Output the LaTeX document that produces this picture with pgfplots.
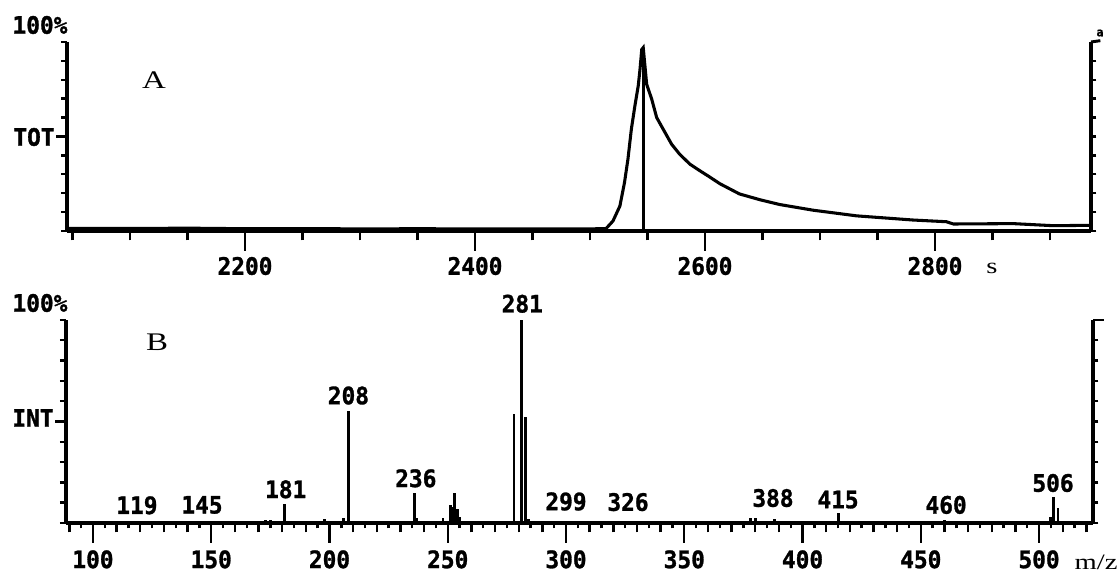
\documentclass[border=0pt]{standalone}
\usepackage{fontspec}
\setmainfont{Liberation Serif}
\newfontfamily\dotfont[FakeStretch=0.95, BoldFeatures={FakeBold=1.2}]{DejaVu Sans Mono}
\newfontfamily\widefont[FakeStretch=1.3]{Liberation Serif}
\usepackage{pgfplots}
\usepackage{pgfplotstable}
\pgfplotsset{compat=1.18}
\newcommand\tk{\dotfont\bfseries\fontsize{18}{18}\selectfont}
\newcommand\pl{\widefont\fontsize{19}{19}\selectfont}
\newcommand\ul{\widefont\fontsize{16.5}{16.5}\selectfont}

\pgfplotstableread{
s pct
2046 1.4
2100 1.3
2150 1.5
2200 1.2
2250 1.3
2300 1.1
2350 1.2
2400 1.1
2450 1.1
2500 1.1
2514 1.3
2520 5.3
2526 13.2
2530 25.6
2533 38
2536 54
2539 66
2542 77
2543.5 85.6
2545 96
2546.3 97
2549.3 77.6
2553.7 69.7
2558 60
2563.7 53.8
2571 45.9
2578 40.6
2587 35.3
2596 31.7
2603 29
2613 25
2630 19.6
2648 16.5
2665 14
2694 11
2732 8
2781 5.8
2810 4.9
2816 3.7
2868 3.9
2903 2.8
2935 3.0
}\tracedata

\pgfplotstableread{
mz int
119 1.0
145 0.8
173 1.5
175 1.5
181 9.5
198 2.0
206 2.5
208 55.4
236 15.0
237 2.5
248 2.5
251 9.0
252 8.0
253 15.0
254 7.0
255 3.0
278 53.5
281 100
283 52.0
284 2.0
299 1.0
326 1.0
378 2.5
380 2.5
388 2.0
415 5.0
460 1.5
487 1.0
505 3.0
506 12.7
508 7.4
}\specdata

\begin{document}
\begin{tikzpicture}
\path[use as bounding box] (0,0) rectangle (837.75pt,429.75pt);

% ---------------- Panel A ----------------
\begin{axis}[
  at={(50.25pt,256.5pt)}, anchor=south west,
  scale only axis, width=768pt, height=141.75pt,
  xmin=2045.2, xmax=2935.7, ymin=0, ymax=100,
  axis x line=bottom, axis y line=left,
  axis line style={line width=2.6pt,-,black},
  clip=false, tick align=outside,
  xtick={2200,2400,2600,2800}, xticklabels={2200,2400,2600,2800},
  minor xtick={2050,2100,2150,2250,2300,2350,2450,2500,2550,2650,2700,2750,2850,2900},
  xtick style={line width=1.8pt, black, /pgfplots/major tick length=15pt, /pgfplots/minor tick length=7pt},
  ytick={0,10,...,100}, yticklabels={},
  ytick style={line width=1.8pt, black, /pgfplots/major tick length=4.5pt},
  xticklabel style={font=\tk, inner sep=0pt, yshift=-15pt},
]
\addplot[line width=2.3pt, black] table[x=s,y=pct]{\tracedata};
\addplot[line width=2.2pt, black] coordinates {(2546.3,0) (2546.3,97)};
\draw[line width=1.8pt] (rel axis cs:0,0.5) -- ++(-8pt,0pt);
\end{axis}
\begin{axis}[
  at={(50.25pt,256.5pt)}, anchor=south west,
  scale only axis, width=768pt, height=141.75pt,
  xmin=2045.2, xmax=2935.7, ymin=0, ymax=100,
  axis x line=none, axis y line=right,
  axis line style={line width=2.6pt,-,black},
  clip=false, tick align=outside,
  ytick={0,10,...,100}, yticklabels={},
  ytick style={line width=1.8pt, black, /pgfplots/major tick length=4pt},
]
\draw[line width=2.2pt] (rel axis cs:1,1) -- ++(7pt,1pt);
\end{axis}

% ---------------- Panel B ----------------
\begin{axis}[
  at={(49.5pt,37.5pt)}, anchor=south west,
  scale only axis, width=770.25pt, height=152.25pt,
  xmin=88.6, xmax=522.8, ymin=0, ymax=100,
  axis x line=bottom, axis y line=left,
  axis line style={line width=2.6pt,-,black},
  clip=false, tick align=outside,
  xtick={100,150,...,500}, xticklabels={100,150,200,250,300,350,400,450,500},
  minor xtick={90,95,...,520},
  xtick style={line width=1.8pt, black, /pgfplots/major tick length=15pt, /pgfplots/minor tick length=4pt},
  ytick={0,10,...,100}, yticklabels={},
  ytick style={line width=1.8pt, black, /pgfplots/major tick length=4.5pt},
  xticklabel style={font=\tk, inner sep=0pt, yshift=-16pt},
]
\addplot[ycomb, line width=2.2pt, black] table[x=mz,y=int]{\specdata};
\draw[line width=1.8pt] (rel axis cs:0,0.5) -- ++(-8pt,0pt);
\node[font=\tk] at (axis cs:118.6,8.7) {119};
\node[font=\tk] at (axis cs:146.1,8.9) {145};
\node[font=\tk] at (axis cs:181.5,16.6) {181};
\node[font=\tk] at (axis cs:208,62.8) {208};
\node[font=\tk] at (axis cs:236.5,22) {236};
\node[font=\tk] at (axis cs:281.5,108) {281};
\node[font=\tk] at (axis cs:300,10.6) {299};
\node[font=\tk] at (axis cs:326.2,10.3) {326};
\node[font=\tk] at (axis cs:387.5,12.3) {388};
\node[font=\tk] at (axis cs:415,11.5) {415};
\node[font=\tk] at (axis cs:460.7,8.9) {460};
\node[font=\tk] at (axis cs:505.9,19.7) {506};
\end{axis}
\begin{axis}[
  at={(49.5pt,37.5pt)}, anchor=south west,
  scale only axis, width=770.25pt, height=152.25pt,
  xmin=88.6, xmax=522.8, ymin=0, ymax=100,
  axis x line=bottom, axis y line=right,
  axis line style={line width=2.6pt,-,black},
  clip=false, tick align=outside,
  xtick={90,100,...,520}, xticklabels={},
  xtick style={line width=1.8pt, black, /pgfplots/major tick length=7pt},
  ytick={0,10,...,100}, yticklabels={},
  ytick style={line width=1.8pt, black, /pgfplots/major tick length=4pt},
]
\draw[line width=2.2pt] (rel axis cs:1,1) -- ++(8pt,0pt);
\end{axis}

% ---------------- free labels ----------------
\node[font=\tk] at (30pt,411pt) {100\%};
\node[font=\tk] at (25.5pt,327pt) {TOT};
\node[font=\pl] at (115.5pt,369.75pt) {A};
\node[font=\ul] at (744pt,228.75pt) {s};
\node[font=\dotfont\bfseries\fontsize{9}{9}\selectfont] at (825pt,405pt) {a};
\node[font=\tk] at (30pt,202.5pt) {100\%};
\node[font=\tk] at (24.75pt,116.25pt) {INT};
\node[font=\pl] at (117.75pt,173.25pt) {B};
\node[font=\ul] at (822pt,8.25pt) {m/z};
\end{tikzpicture}
\end{document}
